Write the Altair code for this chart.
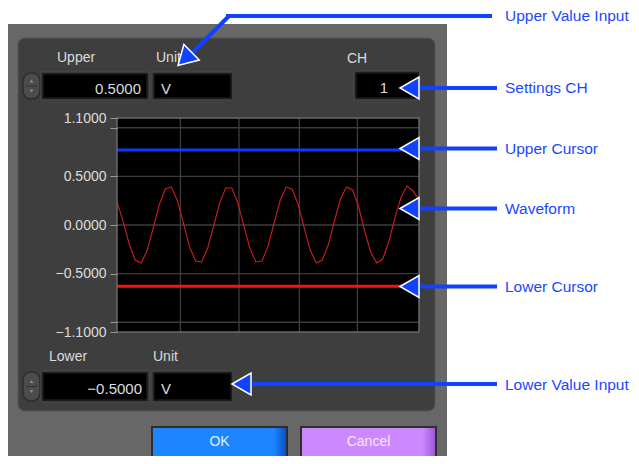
import altair as alt
import pandas as pd

# ---------------- data ----------------
wave_x = [0.0, 0.1, 0.2, 0.3, 0.4, 0.5, 0.6, 0.7, 0.8, 0.9,
          1.0, 1.1, 1.2, 1.3, 1.4, 1.5, 1.6, 1.7, 1.8, 1.9,
          2.0, 2.1, 2.2, 2.3, 2.4, 2.5, 2.6, 2.7, 2.8, 2.9,
          3.0, 3.1, 3.2, 3.3, 3.4, 3.5, 3.6, 3.7, 3.8, 3.9,
          4.0, 4.1, 4.2, 4.3, 4.4, 4.5, 4.6, 4.7, 4.8, 4.9, 5.0]
wave_y = [0.24, 0.04, -0.19, -0.36, -0.39, -0.26, -0.03, 0.21, 0.37, 0.39,
          0.25, 0.02, -0.22, -0.37, -0.38, -0.24, -0.01, 0.23, 0.38, 0.38,
          0.23, -0.01, -0.24, -0.38, -0.37, -0.22, 0.02, 0.25, 0.39, 0.37,
          0.21, -0.03, -0.26, -0.39, -0.36, -0.20, 0.04, 0.27, 0.39, 0.36,
          0.19, -0.06, -0.28, -0.39, -0.35, -0.17, 0.07, 0.28, 0.40, 0.35,
          0.26]
y_tick_values = [1.1, 1.0, 0.5, 0.0, -0.5, -1.0, -1.1]
y_grid = [1.0, 0.5, 0.0, -0.5, -1.0]
x_grid = [1.05, 2.02, 3.02, 3.98]
x_domain = [0, 5]
y_domain = [-1.1, 1.1]
upper_cursor = [0.77]
lower_cursor = [-0.63]

field_labels = ["Upper", "Unit", "CH", "Lower", "Unit"]
field_values = ["0.5000", "V", "1", "\u22120.5000", "V"]
button_labels = ["OK", "Cancel"]
callouts = ["Upper Value Input", "Settings CH", "Upper Cursor",
            "Waveform", "Lower Cursor", "Lower Value Input"]

# ---------------- layout helpers ----------------
OX, OY = 117, 118          # page position of plot origin
W, H = 302, 214
TOTAL_W, TOTAL_H = 623, 448
FONT = "Liberation Sans"
BLUE = "#1142ff"
UI_TEXT = "#dcdcdc"


def X(v):
    return alt.value(v - OX)


def Y(v):
    return alt.value(v - OY)


def one():
    return alt.Chart(pd.DataFrame({"k": [0]}))


def box(x1, y1, x2, y2, **kw):
    return one().mark_rect(**kw).encode(x=X(x1), x2=X(x2), y=Y(y1), y2=Y(y2))


def label(txt, x, y, align="left", color=UI_TEXT, size=14):
    return one().mark_text(text=txt, align=align, baseline="middle", font=FONT,
                           fontSize=size, color=color).encode(x=X(x), y=Y(y))


def seg(x1, y1, x2, y2, color=BLUE, width=4):
    return one().mark_rule(color=color, strokeWidth=width, strokeCap="butt").encode(
        x=X(x1), y=Y(y1), x2=X(x2), y2=Y(y2))


HEAD = "M-1,0L1,-1.15L1,1.15Z"


def head(cx, cy, angle=0):
    return one().mark_point(shape=HEAD, size=361, filled=True, color=BLUE, fill=BLUE,
                            stroke="white", strokeWidth=1.5, opacity=1,
                            angle=angle).encode(x=X(cx), y=Y(cy))


def input_box(x1, y1, x2, y2):
    return [box(x1 - 1, y1 - 1, x2 + 1, y2 + 1, fill="#2a2a2a", stroke="#4a4a4a", strokeWidth=1),
            box(x1 + 1, y1 + 1, x2 - 1, y2 - 1, fill="#000000", stroke="#1a1a1a", strokeWidth=1.5)]


def spinner(x1, y1, x2, y2):
    cx = (x1 + x2) / 2
    cy = (y1 + y2) / 2
    return [box(x1, y1, x2, y2, fill="#4c4c4c", stroke="#2c2c2c", strokeWidth=1.5, cornerRadius=8),
            seg(x1 + 3, cy, x2 - 3, cy, color="#333333", width=1),
            one().mark_point(shape="triangle-up", size=14, filled=True, color="#8c8c8c", opacity=1).encode(x=X(cx), y=Y(cy - 5)),
            one().mark_point(shape="triangle-down", size=14, filled=True, color="#8c8c8c", opacity=1).encode(x=X(cx), y=Y(cy + 5))]


def button(x1, y1, x2, y2, c_main, c_edge, txt, tcol):
    grad = {"gradient": "linear", "x1": 0, "x2": 1, "y1": 0, "y2": 0,
            "stops": [{"offset": 0, "color": c_main}, {"offset": 0.9, "color": c_main},
                      {"offset": 1, "color": c_edge}]}
    return [box(x1, y1, x2, y2, fill=grad, stroke="#2e2e2e", strokeWidth=2),
            label(txt, (x1 + x2) / 2, (y1 + y2) / 2 - 0.5, align="center", color=tcol, size=14)]


layers = []
# dialog frame
layers.append(box(7, 24, 447, 470, fill="#676767"))
layers.append(box(18, 38, 435, 411, fill="#3e3e3e", stroke="#565656", strokeWidth=1, cornerRadius=7))

# field labels
layers.append(label(field_labels[0], 57, 58))
layers.append(label(field_labels[1], 156, 58))
layers.append(label(field_labels[2], 347, 58.5))
layers.append(label(field_labels[3], 49, 357))
layers.append(label(field_labels[4], 153, 357))

# input boxes
layers += spinner(23, 73, 40, 99)
layers += input_box(42, 73, 148, 99)
layers += input_box(153, 73, 232, 99)
layers += input_box(355, 72, 419, 99)
layers += spinner(23, 372, 40, 401)
layers += input_box(42, 372, 148, 401)
layers += input_box(153, 372, 232, 401)

layers.append(label(field_values[0], 141, 88.5, align="right", size=15))
layers.append(label(field_values[1], 161, 88.5, size=15))
layers.append(label(field_values[2], 388, 87.5, align="right", size=15))
layers.append(label(field_values[3], 142, 389, align="right", size=15))
layers.append(label(field_values[4], 161, 389, size=15))

# buttons
layers += button(152, 427, 287, 458, "#1d86ff", "#0a4cc4", button_labels[0], "#e4ecff")
layers += button(301, 427, 436, 458, "#cc88ff", "#9a55d6", button_labels[1], "#f4e8ff")

# plot area
xsc = alt.Scale(domain=x_domain, nice=False, zero=False)
ysc = alt.Scale(domain=y_domain, nice=False, zero=False)
yax = alt.Axis(values=y_tick_values, title=None, domain=False, grid=False,
               ticks=True, tickSize=7, tickColor="#9a9a9a", tickWidth=1,
               labelExpr="abs(datum.value) == 1 ? '' : format(datum.value, '.4f')",
               labelFont=FONT, labelFontSize=14, labelColor=UI_TEXT, labelPadding=4,
               labelOverlap=False, labelFlush=False, labelBound=False, zindex=1)

layers.append(box(OX, OY, OX + W, OY + H, fill="#000000"))
layers.append(alt.Chart(pd.DataFrame({"v": y_grid})).mark_rule(color="#3d3d3d", strokeWidth=1.3)
              .encode(y=alt.Y("v:Q", scale=ysc, axis=yax)))
layers.append(alt.Chart(pd.DataFrame({"t": x_grid})).mark_rule(color="#3d3d3d", strokeWidth=1.3)
              .encode(x=alt.X("t:Q", scale=xsc, axis=None)))
layers.append(alt.Chart(pd.DataFrame({"t": wave_x, "v": wave_y})).mark_line(color="#d21d1d", strokeWidth=1.1)
              .encode(x=alt.X("t:Q", scale=xsc, axis=None), y=alt.Y("v:Q", scale=ysc, axis=yax)))
layers.append(alt.Chart(pd.DataFrame({"v": upper_cursor})).mark_rule(color="#0a3cff", strokeWidth=3)
              .encode(y=alt.Y("v:Q", scale=ysc, axis=yax)))
layers.append(alt.Chart(pd.DataFrame({"v": lower_cursor})).mark_rule(color="#ff1010", strokeWidth=3)
              .encode(y=alt.Y("v:Q", scale=ysc, axis=yax)))
layers.append(box(OX, OY, OX + W, OY + H, fill="transparent", stroke="#6a6a6a", strokeWidth=1.5))

# callout arrows
layers.append(seg(226, 16, 492, 16))
layers.append(seg(229, 16, 192, 53))
layers.append(head(178 + 9.5 * 0.714, 65.5 - 9.5 * 0.70, angle=315.6))
for ty, tip in [(88, 400), (148.5, 400), (208.5, 400), (286.5, 400), (384, 232)]:
    layers.append(seg(tip + 15, ty, 497, ty))
    layers.append(head(tip + 9.5, ty))

for txt, ty in zip(callouts, [16, 88, 148.5, 208.5, 286.5, 384.5]):
    layers.append(label(txt, 505, ty, color="#1a48ff", size=15.5))

chart = alt.layer(*layers).properties(
    width=W, height=H,
    autosize=alt.AutoSizeParams(type="none"),
    padding={"left": OX - 8, "top": OY - 8,
             "right": TOTAL_W - (OX - 8) - W, "bottom": TOTAL_H - (OY - 8) - H},
).configure(background="white").configure_view(stroke="transparent")

chart.save("out.html", embed_options={"renderer": "svg", "actions": False})
